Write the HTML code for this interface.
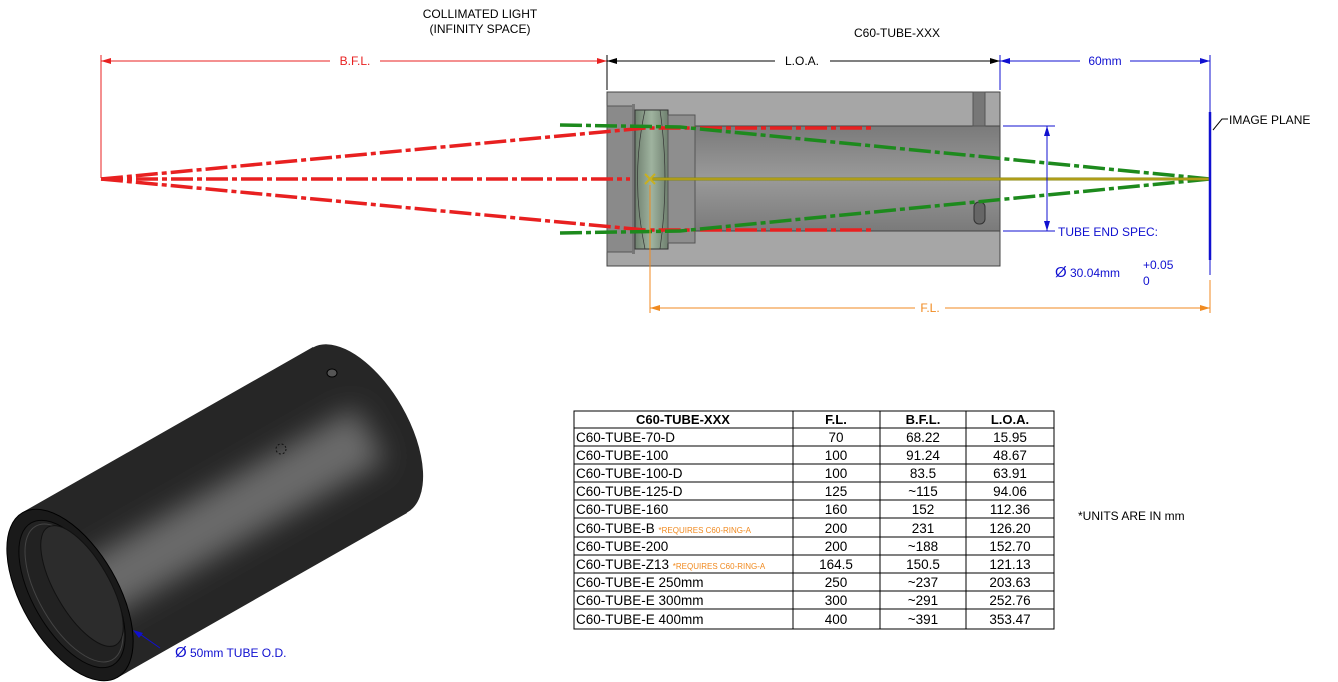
<!DOCTYPE html>
<html><head><meta charset="utf-8"><style>
body{margin:0;background:#fff;}
svg{display:block;font-family:"Liberation Sans",sans-serif;}
</style></head><body>
<svg width="1338" height="682" viewBox="0 0 1338 682" xmlns="http://www.w3.org/2000/svg">
<defs>
<linearGradient id="bore" x1="0" y1="0" x2="0" y2="1">
<stop offset="0" stop-color="#7a7a7a"/><stop offset="0.5" stop-color="#9a9a9a"/><stop offset="1" stop-color="#7a7a7a"/></linearGradient>
<linearGradient id="lens" x1="0" y1="0" x2="1" y2="0">
<stop offset="0" stop-color="#6f806f"/><stop offset="0.5" stop-color="#9fb39f"/><stop offset="1" stop-color="#6f806f"/></linearGradient>
<clipPath id="bodyclip">
<ellipse cx="360" cy="430" rx="48" ry="95" transform="rotate(-30 360 430)"/>
<polygon points="23,512 313,347 407,513 117,678"/>
</clipPath>
<filter id="blur" x="-50%" y="-50%" width="200%" height="200%"><feGaussianBlur stdDeviation="14"/></filter>
</defs>
<!-- titles -->
<g font-size="12" text-anchor="middle" fill="#000">
<text x="480" y="18">COLLIMATED LIGHT</text>
<text x="480" y="33">(INFINITY SPACE)</text>
<text x="897" y="37">C60-TUBE-XXX</text>
</g>
<!-- tube section -->
<rect x="607" y="92" width="393" height="174" fill="#a6a6a6" stroke="#444"/>
<rect x="695" y="126" width="305" height="105" fill="url(#bore)" stroke="#444"/>
<rect x="607" y="106" width="26" height="146" fill="#8a8a8a" stroke="#555"/>
<rect x="632" y="104" width="3" height="150" fill="#777"/>
<rect x="635" y="110" width="33" height="139" fill="url(#lens)" stroke="#333"/>
<path d="M645 110 Q630 179 645 249 M660 110 Q670 179 660 249" stroke="#333" fill="none" stroke-width="0.7"/>
<rect x="668" y="115" width="27" height="128" fill="#8e8e8e" stroke="#555"/>
<rect x="973" y="92" width="12" height="34" fill="#777" stroke="#555"/>
<rect x="974" y="202" width="11" height="22" rx="5" fill="#666" stroke="#333"/>
<!-- rays -->
<g stroke-width="3.5" fill="none" stroke-dasharray="22 4 5 4">
<path d="M101 179 L645 128 L695 128" stroke="#e82020"/>
<path d="M101 179 L630 179" stroke="#e82020"/>
<path d="M101 179 L645 230 L695 230" stroke="#e82020"/>
<path d="M700 128 L875 128 M700 230 L875 230" stroke="#e82020"/>
<path d="M560 125 L680 127 L1210 179" stroke="#1d8a1d"/>
<path d="M560 233 L680 231 L1210 179" stroke="#1d8a1d"/>
</g>
<line x1="650" y1="179" x2="1210" y2="179" stroke="#8a8a10" stroke-width="3"/>
<line x1="650" y1="179" x2="1210" y2="179" stroke="#d4b020" stroke-width="1"/>
<path d="M645 174 L655 184 M655 174 L645 184" stroke="#c8b020" stroke-width="2"/>
<!-- dimensions -->
<g stroke-width="1" fill="none">
<line x1="101" y1="55" x2="101" y2="178" stroke="#e82020"/>
<line x1="101" y1="61" x2="330" y2="61" stroke="#e82020"/>
<line x1="380" y1="61" x2="607" y2="61" stroke="#e82020"/>
<line x1="607" y1="55" x2="607" y2="90" stroke="#000"/>
<line x1="607" y1="61" x2="775" y2="61" stroke="#000"/>
<line x1="830" y1="61" x2="1000" y2="61" stroke="#000"/>
<line x1="1000" y1="55" x2="1000" y2="90" stroke="#1010d0"/>
<line x1="1000" y1="61" x2="1080" y2="61" stroke="#1010d0"/>
<line x1="1130" y1="61" x2="1210" y2="61" stroke="#1010d0"/>
<line x1="1210" y1="55" x2="1210" y2="275" stroke="#1010d0"/>
<line x1="1003" y1="126" x2="1055" y2="126" stroke="#1010d0"/>
<line x1="1003" y1="231" x2="1055" y2="231" stroke="#1010d0"/>
<line x1="1047" y1="126" x2="1047" y2="231" stroke="#1010d0"/>
<line x1="650" y1="185" x2="650" y2="313" stroke="#f08a20"/>
<line x1="1210" y1="280" x2="1210" y2="313" stroke="#f08a20"/>
<line x1="650" y1="308" x2="915" y2="308" stroke="#f08a20"/>
<line x1="945" y1="308" x2="1210" y2="308" stroke="#f08a20"/>
<path d="M1213 130 L1222 119 L1228 119" stroke="#000"/>
</g>
<line x1="1210" y1="112" x2="1210" y2="260" stroke="#1010d0" stroke-width="2.5"/>
<g>
<path d="M101 61 l10 -3 v6z" fill="#e82020"/><path d="M607 61 l-10 -3 v6z" fill="#e82020"/>
<path d="M607 61 l10 -3 v6z"/><path d="M1000 61 l-10 -3 v6z"/>
<path d="M1000 61 l10 -3 v6z" fill="#1010d0"/><path d="M1210 61 l-10 -3 v6z" fill="#1010d0"/>
<path d="M1047 126 l-3 10 h6z" fill="#1010d0"/><path d="M1047 231 l-3 -10 h6z" fill="#1010d0"/>
<path d="M650 308 l10 -3 v6z" fill="#f08a20"/><path d="M1210 308 l-10 -3 v6z" fill="#f08a20"/>
</g>
<g font-size="12">
<text x="355" y="65" text-anchor="middle" fill="#e82020">B.F.L.</text>
<text x="802" y="65" text-anchor="middle">L.O.A.</text>
<text x="1105" y="65" text-anchor="middle" fill="#1010d0">60mm</text>
<text x="1229" y="124">IMAGE PLANE</text>
<text x="1058" y="236" fill="#1010d0">TUBE END SPEC:</text>
<text x="1055" y="277" fill="#1010d0"><tspan font-size="15">Ø</tspan> 30.04mm</text>
<text x="1143" y="269" fill="#1010d0">+0.05</text>
<text x="1143" y="285" fill="#1010d0">0</text>
<text x="930" y="312" text-anchor="middle" fill="#f08a20">F.L.</text>
<text x="1078" y="520">*UNITS ARE IN mm</text>
</g>
<!-- 3D cylinder -->
<g clip-path="url(#bodyclip)">
<rect x="0" y="320" width="450" height="362" fill="#262626"/>
<polygon points="55,578 355,408 385,460 85,630" fill="#6a6a6a" filter="url(#blur)"/>
</g>
<ellipse cx="70" cy="595" rx="48" ry="95" transform="rotate(-30 70 595)" fill="#1a1a1a" stroke="#000"/>
<ellipse cx="72" cy="594" rx="39" ry="82" transform="rotate(-30 72 594)" fill="#222" stroke="#050505"/>
<ellipse cx="74" cy="593" rx="35" ry="77" transform="rotate(-30 74 593)" fill="none" stroke="#444"/>
<ellipse cx="82" cy="586" rx="27" ry="68" transform="rotate(-30 82 586)" fill="#2c2c2c" stroke="#111"/>
<ellipse cx="332" cy="373" rx="5" ry="4" fill="#555" stroke="#000"/>
<circle cx="281" cy="449" r="5" fill="none" stroke="#111" stroke-dasharray="2 2"/>
<path d="M137 632 L160 648" stroke="#1010d0"/>
<path d="M133 630 l10 3 l-4 5z" fill="#1010d0"/>
<text x="175" y="657" font-size="12" fill="#1010d0"><tspan font-size="15">Ø</tspan> 50mm TUBE O.D.</text>
<!-- table -->
<g stroke="#000" stroke-width="1" fill="none">
<rect x="574" y="411" width="480" height="218"/>
<line x1="793" y1="411" x2="793" y2="629"/><line x1="880" y1="411" x2="880" y2="629"/><line x1="966" y1="411" x2="966" y2="629"/>
<line x1="574" y1="428" x2="1054" y2="428"/><line x1="574" y1="446" x2="1054" y2="446"/><line x1="574" y1="464" x2="1054" y2="464"/>
<line x1="574" y1="482" x2="1054" y2="482"/><line x1="574" y1="500" x2="1054" y2="500"/><line x1="574" y1="518" x2="1054" y2="518"/>
<line x1="574" y1="537" x2="1054" y2="537"/><line x1="574" y1="555" x2="1054" y2="555"/><line x1="574" y1="573" x2="1054" y2="573"/>
<line x1="574" y1="591" x2="1054" y2="591"/><line x1="574" y1="609" x2="1054" y2="609"/>
</g>
<g font-size="13" font-weight="bold" text-anchor="middle">
<text x="683" y="424">C60-TUBE-XXX</text><text x="836" y="424">F.L.</text><text x="923" y="424">B.F.L.</text><text x="1010" y="424">L.O.A.</text>
</g>
<g font-size="13.5">
<text x="576" y="442">C60-TUBE-70-D</text>
<text x="576" y="460">C60-TUBE-100</text>
<text x="576" y="478">C60-TUBE-100-D</text>
<text x="576" y="496">C60-TUBE-125-D</text>
<text x="576" y="514">C60-TUBE-160</text>
<text x="576" y="533">C60-TUBE-B <tspan font-size="8" fill="#f08a20">*REQUIRES C60-RING-A</tspan></text>
<text x="576" y="551">C60-TUBE-200</text>
<text x="576" y="569">C60-TUBE-Z13 <tspan font-size="8" fill="#f08a20">*REQUIRES C60-RING-A</tspan></text>
<text x="576" y="587">C60-TUBE-E 250mm</text>
<text x="576" y="605">C60-TUBE-E 300mm</text>
<text x="576" y="624">C60-TUBE-E 400mm</text>
</g>
<g font-size="13.5" text-anchor="middle">
<text x="836" y="442">70</text><text x="923" y="442">68.22</text><text x="1010" y="442">15.95</text>
<text x="836" y="460">100</text><text x="923" y="460">91.24</text><text x="1010" y="460">48.67</text>
<text x="836" y="478">100</text><text x="923" y="478">83.5</text><text x="1010" y="478">63.91</text>
<text x="836" y="496">125</text><text x="923" y="496">~115</text><text x="1010" y="496">94.06</text>
<text x="836" y="514">160</text><text x="923" y="514">152</text><text x="1010" y="514">112.36</text>
<text x="836" y="533">200</text><text x="923" y="533">231</text><text x="1010" y="533">126.20</text>
<text x="836" y="551">200</text><text x="923" y="551">~188</text><text x="1010" y="551">152.70</text>
<text x="836" y="569">164.5</text><text x="923" y="569">150.5</text><text x="1010" y="569">121.13</text>
<text x="836" y="587">250</text><text x="923" y="587">~237</text><text x="1010" y="587">203.63</text>
<text x="836" y="605">300</text><text x="923" y="605">~291</text><text x="1010" y="605">252.76</text>
<text x="836" y="624">400</text><text x="923" y="624">~391</text><text x="1010" y="624">353.47</text>
</g>
</svg>
</body></html>
